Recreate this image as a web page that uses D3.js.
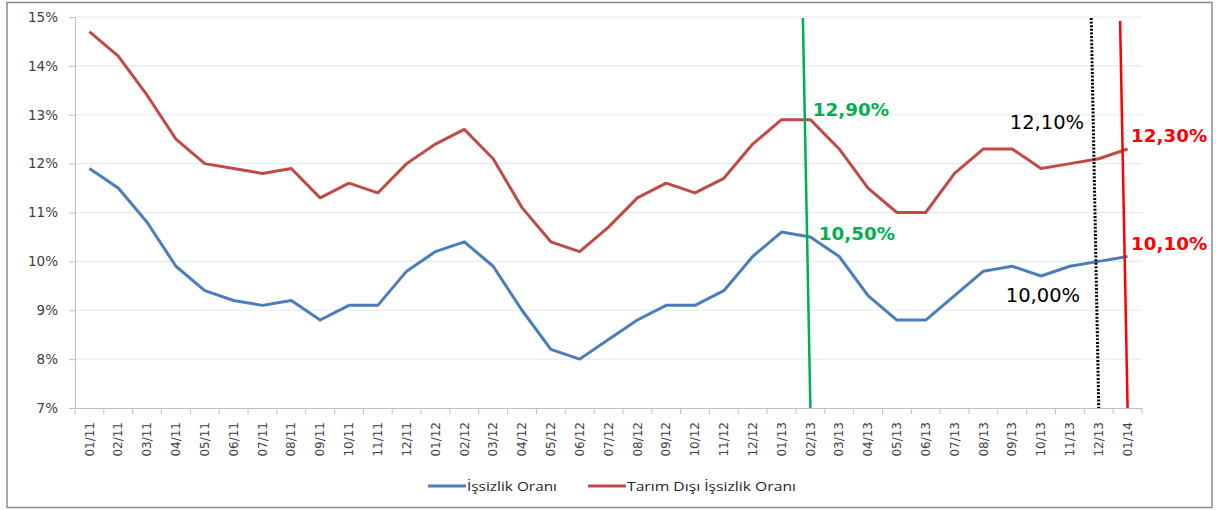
<!DOCTYPE html>
<html><head><meta charset="utf-8">
<script src="https://cdn.jsdelivr.net/npm/d3@7"></script>
<style>body{margin:0;background:#fff}svg{display:block}</style>
</head><body>
<script>
const categories = ["01/11","02/11","03/11","04/11","05/11","06/11","07/11","08/11","09/11","10/11","11/11","12/11",
"01/12","02/12","03/12","04/12","05/12","06/12","07/12","08/12","09/12","10/12","11/12","12/12",
"01/13","02/13","03/13","04/13","05/13","06/13","07/13","08/13","09/13","10/13","11/13","12/13","01/14"];
const issizlik = [11.9,11.5,10.8,9.9,9.4,9.2,9.1,9.2,8.8,9.1,9.1,9.8,
10.2,10.4,9.9,9.0,8.2,8.0,8.4,8.8,9.1,9.1,9.4,10.1,
10.6,10.5,10.1,9.3,8.8,8.8,9.3,9.8,9.9,9.7,9.9,10.0,10.1];
const tarimDisi = [14.7,14.2,13.4,12.5,12.0,11.9,11.8,11.9,11.3,11.6,11.4,12.0,
12.4,12.7,12.1,11.1,10.4,10.2,10.7,11.3,11.6,11.4,11.7,12.4,
12.9,12.9,12.3,11.5,11.0,11.0,11.8,12.3,12.3,11.9,12.0,12.1,12.3];
const yTicks = [7,8,9,10,11,12,13,14,15];
const seriesNames = ["İşsizlik Oranı","Tarım Dışı İşsizlik Oranı"];
const markerCats = ["02/13","12/13","01/14"];
const markerUpper = ["12,90%","12,10%","12,30%"];
const markerLower = ["10,50%","10,00%","10,10%"];

const W=1216,H=510;
const svg=d3.select("body").append("svg").attr("width",W).attr("height",H);
svg.append("rect").attr("x",7).attr("y",2.5).attr("width",1205).attr("height",505)
  .attr("fill","#fff").attr("stroke","#8c8c8c").attr("stroke-width",1.5);

const L=75,R=1142,T=17,B=408;
const xb=d3.scaleBand().domain(categories).range([L,R]).padding(0);
const xc=c=>xb(c)+xb.bandwidth()/2;
const y=d3.scaleLinear().domain([7,15]).range([B,T]);

// grid
svg.append("g").selectAll("line").data(yTicks.filter(d=>d>7)).join("line")
  .attr("x1",L).attr("x2",R).attr("y1",d=>y(d)).attr("y2",d=>y(d))
  .attr("stroke","#e4eaf2").attr("stroke-width",1.2);

// y axis
const ya=svg.append("g").attr("transform",`translate(${L},0)`)
  .call(d3.axisLeft(y).tickValues(yTicks).tickFormat(d=>d+"%").tickSize(6).tickPadding(11));
ya.select(".domain").attr("stroke","#bfbfbf");
ya.selectAll(".tick line").attr("stroke","#bfbfbf");
ya.selectAll("text").attr("font-family","DejaVu Sans").attr("font-size","13.5px").attr("fill","#404040");

// x axis
const xa=svg.append("g").attr("transform",`translate(0,${B})`)
  .call(d3.axisBottom(xb).tickSize(0).tickFormat(d=>d));
xa.select(".domain").attr("stroke","#bfbfbf");
xa.selectAll(".tick line").remove();
xa.selectAll(".tick text").attr("font-family","DejaVu Sans").attr("font-size","12px").attr("fill","#404040")
  .attr("transform","rotate(-90)").attr("text-anchor","end").attr("x",-14).attr("y",0).attr("dy","0.35em");
// boundary ticks
svg.append("g").selectAll("line").data(categories.concat([null])).join("line")
  .attr("x1",(d,i)=>i<categories.length?xb(d):R).attr("x2",(d,i)=>i<categories.length?xb(d):R)
  .attr("y1",B).attr("y2",B+6).attr("stroke","#bfbfbf");

// lines
const line=vals=>d3.line().x((d,i)=>xc(categories[i])).y(d=>y(d))(vals);
svg.append("path").attr("d",line(issizlik)).attr("fill","none").attr("stroke","#4a7ebb").attr("stroke-width",3).attr("stroke-linejoin","round");
svg.append("path").attr("d",line(tarimDisi)).attr("fill","none").attr("stroke","#be4b48").attr("stroke-width",3).attr("stroke-linejoin","round");

// marker lines
const mColors=["#00b050","#000","#ff0000"];
const mTop=[18,18,21];
markerCats.forEach((c,i)=>{
  const xBot=xc(c);
  const ln=svg.append("line").attr("x1",xBot-7.5).attr("y1",mTop[i]).attr("x2",xBot).attr("y2",B)
    .attr("stroke",mColors[i]).attr("stroke-width",i===1?3:2.5);
  if(i===1) ln.attr("stroke-dasharray","2,1.6").attr("stroke-width",3);
});
// labels
const lab=[
 {c:0,t:markerUpper[0],x:xc(markerCats[0])+2.5,yy:116,bold:true,size:18.3},
 {c:0,t:markerLower[0],x:xc(markerCats[0])+8.5,yy:240,bold:true,size:18.3},
 {c:1,t:markerUpper[1],x:xc(markerCats[1])-89,yy:129,bold:false,size:19.5},
 {c:1,t:markerLower[1],x:xc(markerCats[1])-93,yy:302,bold:false,size:19.5},
 {c:2,t:markerUpper[2],x:xc(markerCats[2])+3.5,yy:142,bold:true,size:18.3},
 {c:2,t:markerLower[2],x:xc(markerCats[2])+3.5,yy:250,bold:true,size:18.3},
];
svg.append("g").selectAll("text").data(lab).join("text")
  .attr("x",d=>d.x).attr("y",d=>d.yy).text(d=>d.t)
  .attr("font-family","DejaVu Sans").attr("font-size",d=>d.size+"px")
  .attr("font-weight",d=>d.bold?"bold":"normal").attr("fill",d=>mColors[d.c]);

// legend
const lg=svg.append("g");
const lgX=[428,588], lgC=["#4a7ebb","#be4b48"], lgW=[90,169];
seriesNames.forEach((n,i)=>{
  lg.append("line").attr("x1",lgX[i]).attr("x2",lgX[i]+38).attr("y1",486).attr("y2",486).attr("stroke",lgC[i]).attr("stroke-width",3);
  lg.append("text").attr("x",lgX[i]+39).attr("y",490.5).text(n)
    .attr("textLength",lgW[i]).attr("lengthAdjust","spacingAndGlyphs")
    .attr("font-family","Open Sans").attr("font-size","13px").attr("fill","#262626");
});
</script>
</body></html>
